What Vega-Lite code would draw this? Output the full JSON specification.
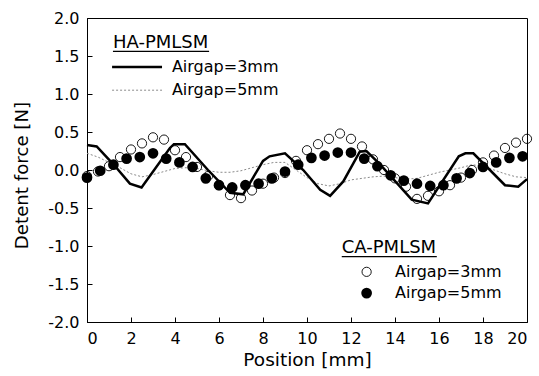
{
  "$schema": "https://vega.github.io/schema/vega-lite/v6.json",
  "width": 440,
  "height": 304,
  "autosize": "none",
  "padding": {"left": 87, "top": 18, "right": 12, "bottom": 54},
  "background": "white",
  "config": {
    "view": {"stroke": "black", "strokeWidth": 1},
    "axis": {"grid": false, "domainColor": "black", "tickColor": "black", "labelColor": "black", "titleColor": "black", "labelFont": "DejaVu Sans", "labelFontSize": 16, "tickSize": -5, "labelPadding": 13, "titleFontWeight": "normal"}
  },
  "datasets": {
    "ha3": [
      {"x": 0, "y": 0.33}, {"x": 0.44, "y": 0.31}, {"x": 1.2, "y": 0.075}, {"x": 1.95, "y": -0.18}, {"x": 2.48, "y": -0.23},
      {"x": 3.77, "y": 0.29}, {"x": 3.95, "y": 0.34}, {"x": 4.45, "y": 0.34}, {"x": 5.5, "y": 0.0}, {"x": 6.5, "y": -0.3},
      {"x": 7.1, "y": -0.32}, {"x": 8.0, "y": 0.12}, {"x": 8.3, "y": 0.18}, {"x": 9.0, "y": 0.22}, {"x": 9.83, "y": 0.0},
      {"x": 10.6, "y": -0.26}, {"x": 11.05, "y": -0.34}, {"x": 11.65, "y": -0.15}, {"x": 12.4, "y": 0.24}, {"x": 12.7, "y": 0.25},
      {"x": 13.3, "y": 0.08}, {"x": 14.76, "y": -0.39}, {"x": 15.5, "y": -0.44}, {"x": 16.9, "y": 0.18}, {"x": 17.2, "y": 0.22},
      {"x": 17.56, "y": 0.22}, {"x": 19.0, "y": -0.2}, {"x": 19.6, "y": -0.22}, {"x": 20, "y": -0.12}
    ],
    "ha5": [
      {"x": 0, "y": 0.22}, {"x": 0.5, "y": 0.17}, {"x": 1, "y": 0.1}, {"x": 1.5, "y": 0.03}, {"x": 2, "y": -0.05},
      {"x": 2.5, "y": -0.09}, {"x": 3, "y": -0.06}, {"x": 3.5, "y": -0.02}, {"x": 4, "y": 0.02}, {"x": 4.5, "y": 0.03},
      {"x": 5, "y": 0.02}, {"x": 5.5, "y": -0.01}, {"x": 6, "y": -0.03}, {"x": 6.5, "y": -0.03}, {"x": 7, "y": -0.01},
      {"x": 7.5, "y": 0.03}, {"x": 8, "y": 0.07}, {"x": 8.5, "y": 0.1}, {"x": 9, "y": 0.1}, {"x": 9.5, "y": 0.0},
      {"x": 10, "y": -0.1}, {"x": 10.5, "y": -0.18}, {"x": 11, "y": -0.21}, {"x": 11.5, "y": -0.18}, {"x": 12, "y": -0.13},
      {"x": 12.5, "y": -0.11}, {"x": 13, "y": -0.09}, {"x": 13.5, "y": -0.08}, {"x": 14, "y": -0.1}, {"x": 14.5, "y": -0.12},
      {"x": 15, "y": -0.11}, {"x": 15.5, "y": -0.07}, {"x": 16, "y": -0.03}, {"x": 16.5, "y": 0.0}, {"x": 17, "y": 0.03},
      {"x": 17.5, "y": 0.07}, {"x": 18, "y": 0.05}, {"x": 18.5, "y": 0.0}, {"x": 19, "y": -0.05}, {"x": 19.5, "y": -0.09},
      {"x": 20, "y": -0.1}
    ],
    "ca3": [
      {"x": 0, "y": -0.08}, {"x": 0.5, "y": -0.02}, {"x": 1, "y": 0.05}, {"x": 1.5, "y": 0.17}, {"x": 2, "y": 0.27},
      {"x": 2.5, "y": 0.35}, {"x": 3, "y": 0.43}, {"x": 3.5, "y": 0.4}, {"x": 4, "y": 0.26}, {"x": 4.5, "y": 0.17},
      {"x": 5, "y": 0.04}, {"x": 5.5, "y": -0.08}, {"x": 6, "y": -0.2}, {"x": 6.5, "y": -0.33}, {"x": 7, "y": -0.37},
      {"x": 7.5, "y": -0.27}, {"x": 8, "y": -0.18}, {"x": 8.5, "y": -0.1}, {"x": 9, "y": -0.04}, {"x": 9.5, "y": 0.12},
      {"x": 10, "y": 0.26}, {"x": 10.5, "y": 0.34}, {"x": 11, "y": 0.41}, {"x": 11.5, "y": 0.48}, {"x": 12, "y": 0.41},
      {"x": 12.5, "y": 0.31}, {"x": 13, "y": 0.14}, {"x": 13.5, "y": 0.0}, {"x": 14, "y": -0.11}, {"x": 14.5, "y": -0.22},
      {"x": 15, "y": -0.38}, {"x": 15.5, "y": -0.34}, {"x": 16, "y": -0.28}, {"x": 16.5, "y": -0.2}, {"x": 17, "y": -0.1},
      {"x": 17.5, "y": 0.0}, {"x": 18, "y": 0.1}, {"x": 18.5, "y": 0.19}, {"x": 19, "y": 0.29}, {"x": 19.5, "y": 0.36},
      {"x": 20, "y": 0.41}
    ],
    "ca5": [
      {"x": 0, "y": -0.1}, {"x": 0.6, "y": -0.01}, {"x": 1.2, "y": 0.07}, {"x": 1.8, "y": 0.15}, {"x": 2.4, "y": 0.17},
      {"x": 3.0, "y": 0.22}, {"x": 3.6, "y": 0.15}, {"x": 4.2, "y": 0.1}, {"x": 4.8, "y": 0.04}, {"x": 5.4, "y": -0.11},
      {"x": 6.0, "y": -0.2}, {"x": 6.6, "y": -0.23}, {"x": 7.2, "y": -0.2}, {"x": 7.8, "y": -0.18}, {"x": 8.4, "y": -0.11},
      {"x": 9.0, "y": -0.02}, {"x": 9.6, "y": 0.07}, {"x": 10.2, "y": 0.16}, {"x": 10.8, "y": 0.19}, {"x": 11.4, "y": 0.23},
      {"x": 12.0, "y": 0.23}, {"x": 12.6, "y": 0.15}, {"x": 13.2, "y": 0.05}, {"x": 13.8, "y": -0.07}, {"x": 14.4, "y": -0.14},
      {"x": 15.0, "y": -0.18}, {"x": 15.6, "y": -0.21}, {"x": 16.2, "y": -0.2}, {"x": 16.8, "y": -0.11}, {"x": 17.4, "y": -0.04},
      {"x": 18.0, "y": 0.04}, {"x": 18.6, "y": 0.1}, {"x": 19.2, "y": 0.16}, {"x": 19.8, "y": 0.18}
    ]
  },
  "encoding": {
    "x": {"type": "quantitative", "scale": {"domain": [0, 20], "nice": false, "zero": false},
      "axis": {"values": [0, 2, 4, 6, 8, 10, 12, 14, 16, 18, 20], "title": "Position [mm]", "titleFont": "DejaVu Sans", "titleFontSize": 18.5, "titleX": 220, "titleY": 37, "titleBaseline": "middle", "titleAlign": "center"}},
    "y": {"type": "quantitative", "scale": {"domain": [-2, 2], "nice": false, "zero": false},
      "axis": {"values": [-2, -1.5, -1, -0.5, 0, 0.5, 1, 1.5, 2], "labelExpr": "replace(format(datum.value, '.1f'), '\u2212', '-')", "title": "Detent force [N]", "titleFont": "DejaVu Sans", "titleFontSize": 18.2, "titleX": -65, "titleY": 157, "titleAngle": -90, "titleBaseline": "middle", "titleAlign": "center"}}
  },
  "layer": [
    {"data": {"name": "ha5"}, "mark": {"type": "line", "color": "#8a8a8a", "strokeWidth": 1, "strokeDash": [2, 2]}, "encoding": {"x": {"field": "x", "type": "quantitative"}, "y": {"field": "y", "type": "quantitative"}}},
    {"data": {"name": "ha3"}, "mark": {"type": "line", "color": "black", "strokeWidth": 2.5}, "encoding": {"x": {"field": "x", "type": "quantitative"}, "y": {"field": "y", "type": "quantitative"}}},
    {"data": {"name": "ca3"}, "mark": {"type": "point", "shape": "circle", "filled": false, "color": "black", "strokeWidth": 0.9, "size": 85, "opacity": 1}, "encoding": {"x": {"field": "x", "type": "quantitative"}, "y": {"field": "y", "type": "quantitative"}}},
    {"data": {"name": "ca5"}, "mark": {"type": "point", "shape": "circle", "filled": true, "color": "black", "size": 115, "opacity": 1}, "encoding": {"x": {"field": "x", "type": "quantitative"}, "y": {"field": "y", "type": "quantitative"}}},
    {"data": {"values": [{"label": "HA-PMLSM"}]}, "mark": {"type": "text", "font": "DejaVu Sans", "fontSize": 18, "align": "left", "baseline": "middle", "color": "black"}, "encoding": {"x": {"datum": 1.18}, "y": {"datum": 1.67}, "text": {"field": "label"}}},
    {"data": {"values": [{"label": "HA-PMLSM"}]}, "mark": {"type": "rule", "color": "black", "strokeWidth": 1.2}, "encoding": {"x": {"datum": 1.18}, "x2": {"datum": 5.55}, "y": {"datum": 1.56}}},
    {"data": {"values": [{"label": "Airgap=3mm"}]}, "mark": {"type": "rule", "color": "black", "strokeWidth": 2.5}, "encoding": {"x": {"datum": 1.14}, "x2": {"datum": 3.41}, "y": {"datum": 1.355}}},
    {"data": {"values": [{"label": "Airgap=5mm"}]}, "mark": {"type": "rule", "color": "#8a8a8a", "strokeWidth": 1, "strokeDash": [2, 2]}, "encoding": {"x": {"datum": 1.14}, "x2": {"datum": 3.41}, "y": {"datum": 1.05}}},
    {"data": {"values": [{"label": "Airgap=3mm", "ly": 1.355}, {"label": "Airgap=5mm", "ly": 1.05}]}, "mark": {"type": "text", "font": "DejaVu Sans", "fontSize": 16, "align": "left", "baseline": "middle", "color": "black"}, "encoding": {"x": {"datum": 3.86}, "y": {"field": "ly", "type": "quantitative"}, "text": {"field": "label"}}},
    {"data": {"values": [{"label": "CA-PMLSM"}]}, "mark": {"type": "text", "font": "DejaVu Sans", "fontSize": 18, "align": "left", "baseline": "middle", "color": "black"}, "encoding": {"x": {"datum": 11.58}, "y": {"datum": -1.03}, "text": {"field": "label"}}},
    {"data": {"values": [{"label": "CA-PMLSM"}]}, "mark": {"type": "rule", "color": "black", "strokeWidth": 1.2}, "encoding": {"x": {"datum": 11.58}, "x2": {"datum": 15.9}, "y": {"datum": -1.14}}},
    {"data": {"values": [{"label": "Airgap=3mm"}]}, "mark": {"type": "point", "shape": "circle", "filled": false, "color": "black", "strokeWidth": 0.9, "size": 85, "opacity": 1}, "encoding": {"x": {"datum": 12.71}, "y": {"datum": -1.34}}},
    {"data": {"values": [{"label": "Airgap=5mm"}]}, "mark": {"type": "point", "shape": "circle", "filled": true, "color": "black", "size": 115, "opacity": 1}, "encoding": {"x": {"datum": 12.71}, "y": {"datum": -1.62}}},
    {"data": {"values": [{"label": "Airgap=3mm", "ly": -1.34}, {"label": "Airgap=5mm", "ly": -1.62}]}, "mark": {"type": "text", "font": "DejaVu Sans", "fontSize": 16, "align": "left", "baseline": "middle", "color": "black"}, "encoding": {"x": {"datum": 14.0}, "y": {"field": "ly", "type": "quantitative"}, "text": {"field": "label"}}}
  ]
}
